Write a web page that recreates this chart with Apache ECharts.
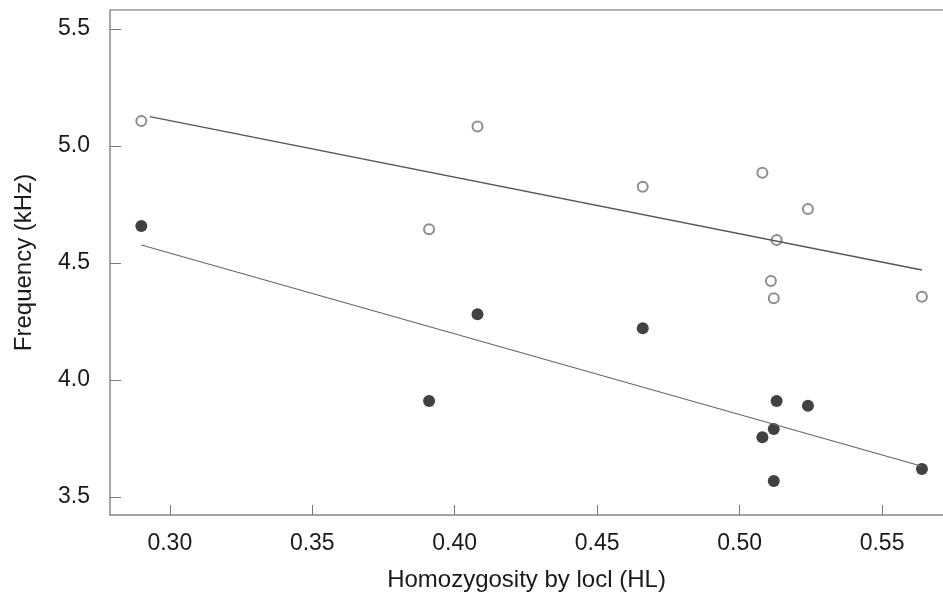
<!DOCTYPE html>
<html>
<head>
<meta charset="utf-8">
<script src="https://cdn.jsdelivr.net/npm/echarts@6/dist/echarts.min.js"></script>
<style>
  html, body { margin: 0; padding: 0; background: #fff; }
  #chart { width: 943px; height: 598px; }
</style>
</head>
<body>
<div id="chart"></div>
<script>
// open circles (upper group)
var openX = [0.290, 0.408, 0.391, 0.466, 0.508, 0.524, 0.513, 0.511, 0.512, 0.564];
var openY = [5.107, 5.083, 4.644, 4.826, 4.886, 4.731, 4.598, 4.423, 4.349, 4.356];
// filled circles (lower group)
var filledX = [0.290, 0.408, 0.391, 0.466, 0.513, 0.524, 0.512, 0.508, 0.512, 0.564];
var filledY = [4.658, 4.281, 3.910, 4.221, 3.910, 3.890, 3.791, 3.755, 3.568, 3.620];
// fitted lines, end points
var upperFitX = [0.293, 0.564];
var upperFitY = [5.125, 4.470];
var lowerFitX = [0.290, 0.564];
var lowerFitY = [4.577, 3.631];
// tick labels
var xTicks = [0.30, 0.35, 0.40, 0.45, 0.50, 0.55];
var yTicks = [3.5, 4.0, 4.5, 5.0, 5.5];

function pairs(xs, ys) {
  return xs.map(function (x, i) { return [x, ys[i]]; });
}

var font = "'Liberation Sans', Arial, sans-serif";
var chart = echarts.init(document.getElementById('chart'));

chart.setOption({
  animation: false,
  grid: { left: 110, right: 0, top: 10, bottom: 83 },
  xAxis: [
    {
      type: 'value',
      min: 0.279,
      max: 0.5714,
      name: 'Homozygosity by locl (HL)',
      nameLocation: 'middle',
      nameGap: 53,
      nameTextStyle: { fontFamily: font, fontSize: 24, color: '#1a1a1a' },
      axisLine: { lineStyle: { color: '#888', width: 1.5 } },
      axisTick: { inside: true, length: 10, customValues: xTicks, lineStyle: { color: '#777' } },
      axisLabel: {
        customValues: xTicks,
        margin: 17,
        fontFamily: font,
        fontSize: 23,
        color: '#1a1a1a',
        formatter: function (v) { return v.toFixed(2); }
      },
      splitLine: { show: false }
    },
    {
      type: 'value',
      position: 'top',
      min: 0.279,
      max: 0.5714,
      axisLine: { show: true, onZero: false, lineStyle: { color: '#999', width: 1.5 } },
      axisTick: { show: false },
      axisLabel: { show: false },
      splitLine: { show: false }
    }
  ],
  yAxis: {
    type: 'value',
    min: 3.423,
    max: 5.581,
    name: 'Frequency (kHz)',
    nameLocation: 'middle',
    nameGap: 74,
    nameTextStyle: { fontFamily: font, fontSize: 24, color: '#1a1a1a' },
    axisLine: { show: true, lineStyle: { color: '#888', width: 1.5 } },
    axisTick: { show: true, inside: true, length: 11, customValues: yTicks, lineStyle: { color: '#777' } },
    axisLabel: {
      customValues: yTicks,
      margin: 20,
      fontFamily: font,
      fontSize: 23,
      color: '#1a1a1a',
      formatter: function (v) { return v.toFixed(1); }
    },
    splitLine: { show: false }
  },
  series: [
    {
      type: 'line',
      data: pairs(upperFitX, upperFitY),
      symbol: 'none',
      lineStyle: { color: '#555', width: 1.3 }
    },
    {
      type: 'line',
      data: pairs(lowerFitX, lowerFitY),
      symbol: 'none',
      lineStyle: { color: '#666', width: 1.1 }
    },
    {
      type: 'scatter',
      data: pairs(openX, openY),
      symbol: 'circle',
      symbolSize: 10,
      itemStyle: { color: '#fff', borderColor: '#707070', borderWidth: 2 }
    },
    {
      type: 'scatter',
      data: pairs(filledX, filledY),
      symbol: 'circle',
      symbolSize: 12,
      itemStyle: { color: '#111' }
    }
  ]
});
</script>
</body>
</html>
